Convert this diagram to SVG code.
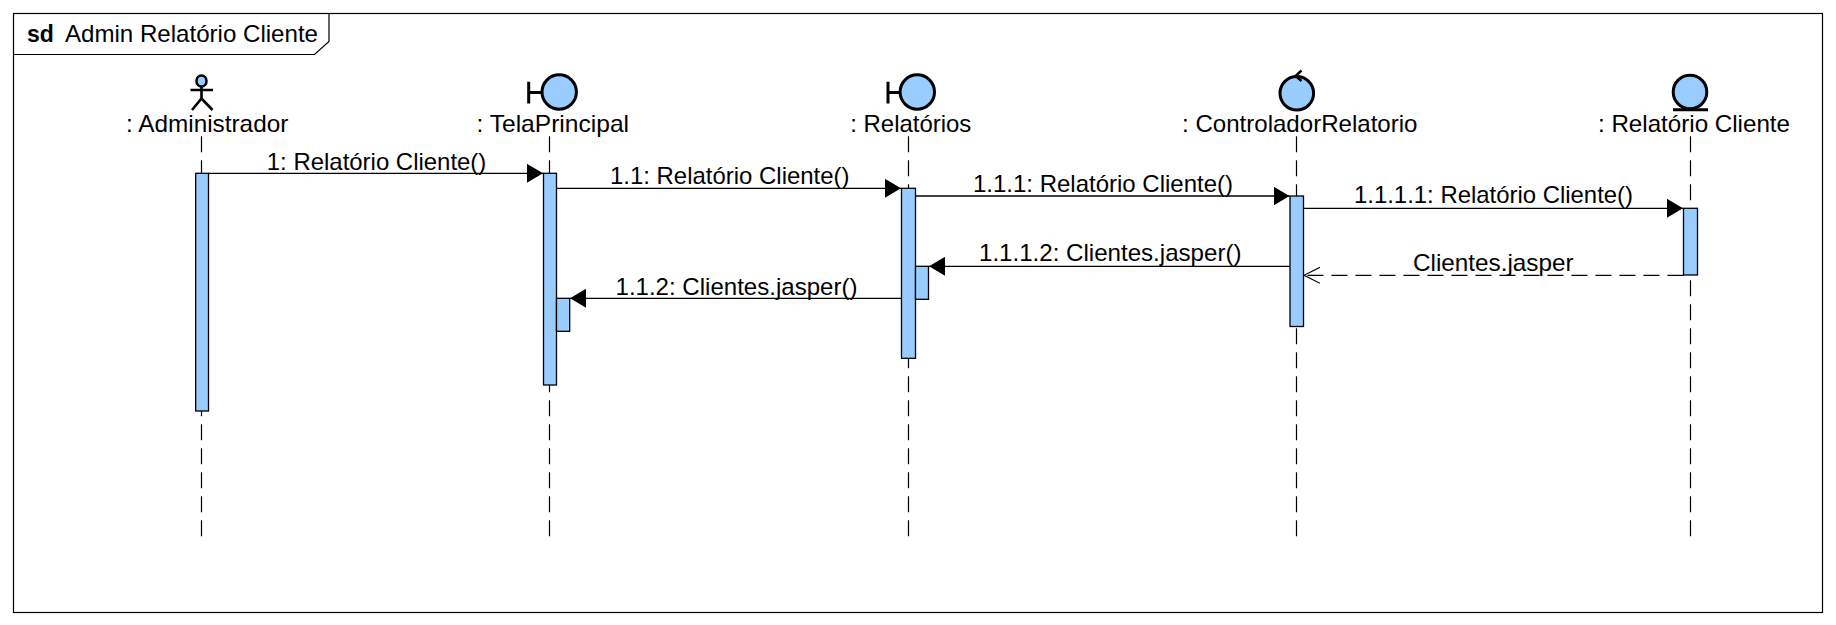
<svg xmlns="http://www.w3.org/2000/svg" width="1836" height="625" viewBox="0 0 1836 625">
<style>
text{font-family:"Liberation Sans",Arial,sans-serif;font-size:24px;fill:#000}
.b{font-weight:bold;font-size:23px}
.frame{fill:none;stroke:#000;stroke-width:1.2}
.life{stroke:#000;stroke-width:1.2;stroke-dasharray:16 8;fill:none}
.act{fill:#99ccff;stroke:#000;stroke-width:1.3}
.g{fill:#99ccff;stroke:#000;stroke-width:3}
.gl{fill:none;stroke:#000;stroke-width:3}
.msg{stroke:#000;stroke-width:1.3;fill:none;marker-end:url(#solid)}
.ret{stroke:#000;stroke-width:1.2;fill:none;stroke-dasharray:16 8;marker-end:url(#open)}
</style>
<defs>
<marker id="solid" markerUnits="userSpaceOnUse" viewBox="0 0 16 19" refX="16" refY="9.5" markerWidth="16" markerHeight="19" orient="auto"><path d="M0 0L16 9.5L0 19Z" fill="#000"/></marker>
<marker id="open" markerUnits="userSpaceOnUse" viewBox="0 0 17 18" refX="16" refY="9" markerWidth="17" markerHeight="18" orient="auto"><path d="M0 1L16 9L0 17" fill="none" stroke="#000" stroke-width="1.2"/></marker>
</defs>
<rect width="1836" height="625" fill="#fff"/>
<g id="frame">
<rect class="frame" x="13.5" y="13.5" width="1809" height="599"/>
<path class="frame" d="M13.5 54.5H314.5L329 41.5V13.5"/>
<text x="27" y="42.3" class="b">sd</text>
<text x="65" y="42.3" textLength="253" lengthAdjust="spacingAndGlyphs">Admin Relatório Cliente</text>
</g>
<g id="administrador">
<path class="life" d="M201.5 136.3V536.3"/>
<ellipse cx="201.5" cy="81" rx="5" ry="5.5" fill="#99ccff" stroke="#000" stroke-width="2.6"/>
<path d="M201.5 86.5V98.5M190.5 90H213M192 110L201.5 98.5L212.5 110" fill="none" stroke="#000" stroke-width="2.6"/>
<text x="126.1" y="132.3" textLength="162.2" lengthAdjust="spacingAndGlyphs">: Administrador</text>
<rect class="act" x="195.7" y="173.3" width="12.8" height="237.7"/>
</g>
<g id="telaprincipal">
<path class="life" d="M549.5 136.3V536.3"/>
<path class="gl" d="M528.7 81.7V103.5M528.7 92.6H541.5"/>
<circle class="g" cx="559.2" cy="92" r="17.2"/>
<text x="476.5" y="132.3" textLength="152.5" lengthAdjust="spacingAndGlyphs">: TelaPrincipal</text>
<rect class="act" x="543.5" y="173.3" width="13" height="211.7"/>
<rect class="act" x="556.5" y="298.3" width="13.2" height="33"/>
</g>
<g id="relatorios">
<path class="life" d="M908.5 136.3V536.3"/>
<path class="gl" d="M888 81.7V103.5M888 92.6H900"/>
<circle class="g" cx="917.3" cy="92" r="17.2"/>
<text x="850.3" y="132.3" textLength="121" lengthAdjust="spacingAndGlyphs">: Relatórios</text>
<rect class="act" x="901.5" y="188.3" width="14" height="170"/>
<rect class="act" x="915.5" y="266.3" width="13" height="33"/>
</g>
<g id="controlador">
<path class="life" d="M1296.5 136.3V536.3"/>
<circle class="g" cx="1296.8" cy="93.3" r="16.8"/>
<path d="M1301.5 70.5L1295.5 76L1301.5 81" fill="none" stroke="#000" stroke-width="2.4"/>
<text x="1182" y="132.3" textLength="235.5" lengthAdjust="spacingAndGlyphs">: ControladorRelatorio</text>
<rect class="act" x="1290" y="196" width="13.5" height="130.5"/>
</g>
<g id="relatorio-cliente">
<path class="life" d="M1690.5 136.3V536.3"/>
<circle class="g" cx="1690" cy="92" r="16.8"/>
<path class="gl" d="M1673 109.8H1708"/>
<text x="1598" y="132.3" textLength="192" lengthAdjust="spacingAndGlyphs">: Relatório Cliente</text>
<rect class="act" x="1683.5" y="208.3" width="14" height="66.7"/>
</g>
<g id="connectors">
<path class="msg" d="M208.5 173.3H543"/>
<path class="msg" d="M556.5 188.3H901"/>
<path class="msg" d="M915.5 196H1289.5"/>
<path class="msg" d="M1303.5 208.3H1683"/>
<path class="msg" d="M1290 266.3H929"/>
<path class="msg" d="M901.5 298.3H570"/>
<path class="ret" d="M1683.5 275.3H1304"/>
<text x="266.8" y="170" textLength="219.5" lengthAdjust="spacingAndGlyphs">1: Relatório Cliente()</text>
<text x="610" y="184" textLength="239.5" lengthAdjust="spacingAndGlyphs">1.1: Relatório Cliente()</text>
<text x="973" y="191.7" textLength="260" lengthAdjust="spacingAndGlyphs">1.1.1: Relatório Cliente()</text>
<text x="1354" y="203.3" textLength="279" lengthAdjust="spacingAndGlyphs">1.1.1.1: Relatório Cliente()</text>
<text x="979" y="261" textLength="262.5" lengthAdjust="spacingAndGlyphs">1.1.1.2: Clientes.jasper()</text>
<text x="1413" y="270.7" textLength="160.5" lengthAdjust="spacingAndGlyphs">Clientes.jasper</text>
<text x="615.5" y="294.7" textLength="242" lengthAdjust="spacingAndGlyphs">1.1.2: Clientes.jasper()</text>
</g>
</svg>
